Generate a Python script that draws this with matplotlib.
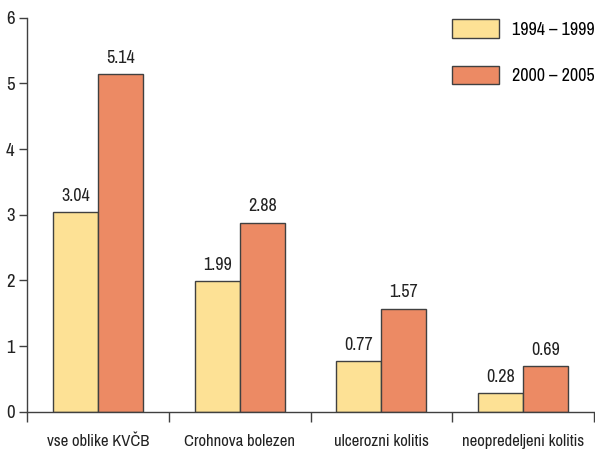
import numpy as np
import matplotlib.pyplot as plt
from matplotlib.patches import Patch

categories = ["vse oblike KVČB", "Crohnova bolezen", "ulcerozni kolitis", "neopredeljeni kolitis"]
series_labels = ["1994 – 1999", "2000 – 2005"]
vals_9499 = [3.04, 1.99, 0.77, 0.28]
vals_0005 = [5.14, 2.88, 1.57, 0.69]

colors = ["#FDE195", "#EC8A64"]
edge = "#404040"
txt = "#222222"

plt.rcParams['font.family'] = ['Archivo Narrow', 'DejaVu Sans']

fig = plt.figure(figsize=(5.95, 4.55), dpi=100)
ax = fig.add_axes([0.0454, 0.095, 0.953, 0.866])

x = np.arange(len(categories)) + 0.5
w = 0.318
b1 = ax.bar(x - w / 2, vals_9499, w, color=colors[0], edgecolor=edge, linewidth=1)
b2 = ax.bar(x + w / 2, vals_0005, w, color=colors[1], edgecolor=edge, linewidth=1)
ax.bar_label(b1, labels=[f"{v:.2f}" for v in vals_9499], padding=6, fontsize=13, color=txt)
ax.bar_label(b2, labels=[f"{v:.2f}" for v in vals_0005], padding=6, fontsize=13, color=txt)

ax.set_xlim(0, len(categories))
ax.set_ylim(0, 6)
ax.set_yticks(range(7))
ax.set_xticks(range(len(categories) + 1))
ax.set_xticklabels([])
ax.set_xticks(x, minor=True)
ax.set_xticklabels(categories, minor=True, fontsize=12, color=txt)
ax.tick_params(axis='x', which='minor', length=0, pad=16)
ax.tick_params(axis='x', which='major', direction='out', length=7, color=edge, width=1)
ax.tick_params(axis='y', direction='out', length=6, color=edge, width=1, labelsize=13.5, labelcolor=txt, pad=3)

for s in ['top', 'right']:
    ax.spines[s].set_visible(False)
for s in ['left', 'bottom']:
    ax.spines[s].set_color(edge)
    ax.spines[s].set_linewidth(1)

handles = [Patch(facecolor=c, edgecolor=edge, linewidth=1) for c in colors]
ax.legend(handles, series_labels, loc='upper left', bbox_to_anchor=(436 / 595, 1 - 3 / 455),
          bbox_transform=fig.transFigure, frameon=False, fontsize=13,
          handlelength=2.6, handleheight=1.2, labelspacing=1.55, handletextpad=0.7)

fig.savefig("out.png", dpi=100)
